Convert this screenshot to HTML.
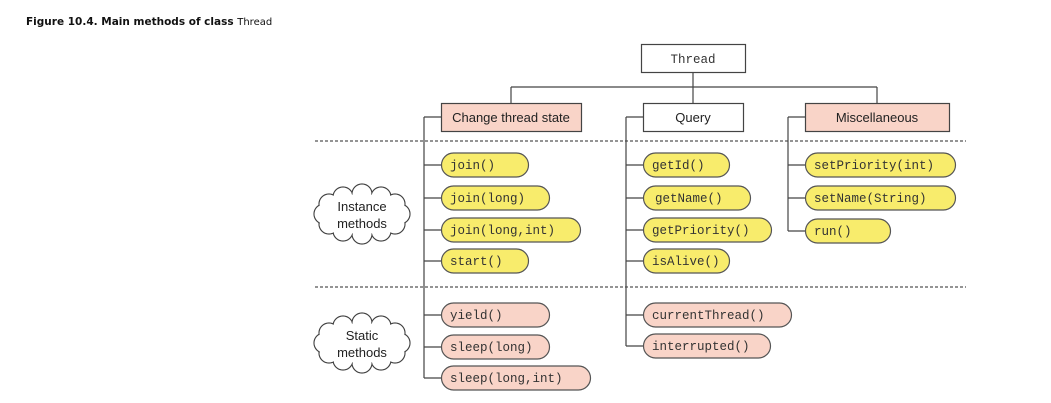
<!DOCTYPE html>
<html><head><meta charset="utf-8"><style>
html,body{margin:0;padding:0;background:#fff;}
svg{display:block;}
.t{font-family:"Liberation Mono",monospace;font-size:12.5px;fill:#333;}
.s{font-family:"Liberation Sans",sans-serif;font-size:13px;fill:#222;}
</style></head><body>
<svg width="1051" height="403" viewBox="0 0 1051 403" xmlns="http://www.w3.org/2000/svg">
<text x="26" y="25" font-family="DejaVu Sans, Liberation Sans, sans-serif" font-weight="bold" font-size="10.5" fill="#111">Figure 10.4. Main methods of class <tspan font-weight="normal" font-size="10">Thread</tspan></text>

<defs>
<g id="cloud">
  <g stroke="#444" stroke-width="1.2" fill="#fff">
    <circle cx="400" cy="214" r="10"/><circle cx="395" cy="224" r="10"/><circle cx="381" cy="231" r="10"/><circle cx="362" cy="234" r="10"/><circle cx="343" cy="231" r="10"/><circle cx="329" cy="224" r="10"/><circle cx="324" cy="214" r="10"/><circle cx="329" cy="204" r="10"/><circle cx="343" cy="197" r="10"/><circle cx="362" cy="194" r="10"/><circle cx="381" cy="197" r="10"/><circle cx="395" cy="204" r="10"/>
  </g>
  <g fill="#fff">
    <circle cx="400" cy="214" r="9.3"/><circle cx="395" cy="224" r="9.3"/><circle cx="381" cy="231" r="9.3"/><circle cx="362" cy="234" r="9.3"/><circle cx="343" cy="231" r="9.3"/><circle cx="329" cy="224" r="9.3"/><circle cx="324" cy="214" r="9.3"/><circle cx="329" cy="204" r="9.3"/><circle cx="343" cy="197" r="9.3"/><circle cx="362" cy="194" r="9.3"/><circle cx="381" cy="197" r="9.3"/><circle cx="395" cy="204" r="9.3"/>
    <ellipse cx="362" cy="214" rx="38" ry="20"/>
  </g>
</g>
</defs>

<!-- dotted separators -->
<line x1="315" y1="141" x2="966" y2="141" stroke="#555" stroke-width="1.2" stroke-dasharray="3,2"/>
<line x1="315" y1="287" x2="966" y2="287" stroke="#555" stroke-width="1.2" stroke-dasharray="3,2"/>

<!-- tree connectors -->
<g stroke="#444" stroke-width="1.2" fill="none">
  <line x1="693" y1="72" x2="693" y2="103"/>
  <line x1="511" y1="87" x2="877" y2="87"/>
  <line x1="511" y1="87" x2="511" y2="103"/>
  <line x1="877" y1="87" x2="877" y2="103"/>
  <line x1="424" y1="117" x2="424" y2="378"/><line x1="424" y1="117" x2="441" y2="117"/>
  <line x1="626" y1="117" x2="626" y2="346"/><line x1="626" y1="117" x2="643" y2="117"/>
  <line x1="788" y1="117" x2="788" y2="231"/><line x1="788" y1="117" x2="805" y2="117"/>
  <g>
    <line x1="424" y1="165" x2="443" y2="165"/><line x1="424" y1="198" x2="443" y2="198"/><line x1="424" y1="230" x2="443" y2="230"/><line x1="424" y1="261" x2="443" y2="261"/><line x1="424" y1="315" x2="443" y2="315"/><line x1="424" y1="347" x2="443" y2="347"/><line x1="424" y1="378" x2="443" y2="378"/>
    <line x1="626" y1="165" x2="645" y2="165"/><line x1="626" y1="198" x2="645" y2="198"/><line x1="626" y1="230" x2="645" y2="230"/><line x1="626" y1="261" x2="645" y2="261"/><line x1="626" y1="315" x2="645" y2="315"/><line x1="626" y1="346" x2="645" y2="346"/>
    <line x1="788" y1="165" x2="807" y2="165"/><line x1="788" y1="198" x2="807" y2="198"/><line x1="788" y1="231" x2="807" y2="231"/>
  </g>
</g>

<!-- boxes -->
<rect x="641.5" y="44.5" width="104" height="28" fill="#fff" stroke="#444" stroke-width="1.2"/>
<text x="693" y="63" class="t" text-anchor="middle">Thread</text>
<rect x="441.5" y="103.5" width="140" height="28" fill="#f9d4c8" stroke="#444" stroke-width="1.2"/>
<text x="511" y="122" class="s" text-anchor="middle">Change thread state</text>
<rect x="643.5" y="103.5" width="100" height="28" fill="#fff" stroke="#444" stroke-width="1.2"/>
<text x="693" y="122" class="s" text-anchor="middle">Query</text>
<rect x="805.5" y="103.5" width="144" height="28" fill="#f9d4c8" stroke="#444" stroke-width="1.2"/>
<text x="877" y="122" class="s" text-anchor="middle">Miscellaneous</text>

<!-- pills -->
<g stroke="#555" stroke-width="1.2">
  <rect x="441.5" y="153" width="87" height="24" rx="12" fill="#f8ec6c"/>
  <rect x="441.5" y="186" width="108" height="24" rx="12" fill="#f8ec6c"/>
  <rect x="441.5" y="218" width="139" height="24" rx="12" fill="#f8ec6c"/>
  <rect x="441.5" y="249" width="87" height="24" rx="12" fill="#f8ec6c"/>
  <rect x="441.5" y="303" width="108" height="24" rx="12" fill="#f9d4c8"/>
  <rect x="441.5" y="335" width="108" height="24" rx="12" fill="#f9d4c8"/>
  <rect x="441.5" y="366" width="149" height="24" rx="12" fill="#f9d4c8"/>
  <rect x="643.5" y="153" width="86" height="24" rx="12" fill="#f8ec6c"/>
  <rect x="643.5" y="186" width="107" height="24" rx="12" fill="#f8ec6c"/>
  <rect x="643.5" y="218" width="128" height="24" rx="12" fill="#f8ec6c"/>
  <rect x="643.5" y="249" width="86" height="24" rx="12" fill="#f8ec6c"/>
  <rect x="643.5" y="303" width="148" height="24" rx="12" fill="#f9d4c8"/>
  <rect x="643.5" y="334" width="127" height="24" rx="12" fill="#f9d4c8"/>
  <rect x="805.5" y="153" width="150" height="24" rx="12" fill="#f8ec6c"/>
  <rect x="805.5" y="186" width="150" height="24" rx="12" fill="#f8ec6c"/>
  <rect x="805.5" y="219" width="85" height="24" rx="12" fill="#f8ec6c"/>
</g>
<g class="t">
  <text x="450" y="169" class="t">join()</text>
  <text x="450" y="202" class="t">join(long)</text>
  <text x="450" y="234" class="t">join(long,int)</text>
  <text x="450" y="265" class="t">start()</text>
  <text x="450" y="319" class="t">yield()</text>
  <text x="450" y="351" class="t">sleep(long)</text>
  <text x="450" y="382" class="t">sleep(long,int)</text>
  <text x="652" y="169" class="t">getId()</text>
  <text x="655" y="202" class="t">getName()</text>
  <text x="652" y="234" class="t">getPriority()</text>
  <text x="652" y="265" class="t">isAlive()</text>
  <text x="652" y="319" class="t">currentThread()</text>
  <text x="652" y="350" class="t">interrupted()</text>
  <text x="814" y="169" class="t">setPriority(int)</text>
  <text x="814" y="202" class="t">setName(String)</text>
  <text x="814" y="235" class="t">run()</text>
</g>

<!-- clouds -->
<use href="#cloud"/>
<text x="362" y="211" class="s" text-anchor="middle">Instance</text>
<text x="362" y="228" class="s" text-anchor="middle">methods</text>
<use href="#cloud" transform="translate(0,129)"/>
<text x="362" y="340" class="s" text-anchor="middle">Static</text>
<text x="362" y="357" class="s" text-anchor="middle">methods</text>
</svg>
</body></html>
